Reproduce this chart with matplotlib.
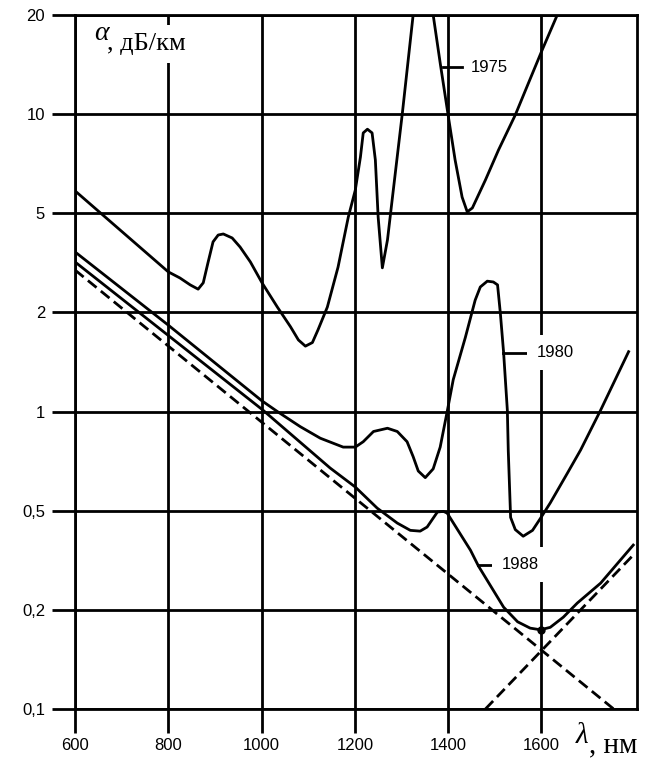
import numpy as np
import matplotlib
matplotlib.use("Agg")
import matplotlib.pyplot as plt
from matplotlib.ticker import NullLocator

# y axis of the original: 0.1, 0.2, 0.5, 1, 2, 5, 10, 20 equally spaced
y_ticks = [0.1, 0.2, 0.5, 1, 2, 5, 10, 20]
y_tick_labels = ["0,1", "0,2", "0,5", "1", "2", "5", "10", "20"]
x_ticks = [600, 800, 1000, 1200, 1400, 1600]

# 1975 fibre
wl_1975 = [600, 800, 825, 847, 864, 875, 885, 896, 907, 918, 937, 954, 976, 1001, 1034, 1062,
           1079, 1094, 1109, 1121, 1141, 1164, 1186, 1201, 1212, 1218, 1227, 1237, 1244, 1250,
           1259, 1270, 1280, 1302, 1325, 1347, 1368, 1383, 1400, 1415, 1430, 1441, 1452, 1480,
           1508, 1544, 1572, 1602, 1634, 1650]
a_1975 = [5.85, 2.91, 2.75, 2.58, 2.48, 2.63, 3.16, 3.84, 4.09, 4.13, 3.98, 3.66, 3.19, 2.63,
          2.10, 1.81, 1.65, 1.58, 1.62, 1.77, 2.10, 3.04, 4.83, 5.88, 7.41, 8.77, 9.0, 8.77,
          7.26, 4.83, 3.02, 3.91, 5.49, 10.1, 20, 40, 20, 14.3, 9.94, 7.26, 5.60, 5.05, 5.19,
          6.31, 7.78, 9.94, 12.4, 15.7, 20, 24]

# 1980 fibre
wl_1980 = [600, 800, 1000, 1034, 1083, 1126, 1175, 1201, 1218, 1240, 1270, 1291, 1312, 1325,
           1336, 1351, 1368, 1383, 1398, 1411, 1437, 1458, 1469, 1484, 1497, 1506, 1512, 1519,
           1527, 1529, 1534, 1544, 1561, 1581, 1598, 1619, 1656, 1684, 1727, 1787]
a_1980 = [3.50, 1.83, 1.08, 1.00, 0.90, 0.83, 0.78, 0.78, 0.81, 0.87, 0.89, 0.87, 0.81, 0.73,
          0.66, 0.63, 0.67, 0.78, 1.0, 1.25, 1.68, 2.24, 2.53, 2.67, 2.65, 2.58, 1.99, 1.51,
          1.01, 0.76, 0.47, 0.42, 0.395, 0.417, 0.466, 0.528, 0.651, 0.764, 1.01, 1.52]

# 1988 fibre
wl_1988 = [600, 1003, 1147, 1201, 1248, 1291, 1319, 1340, 1355, 1377, 1390, 1398, 1448, 1465,
           1519, 1549, 1576, 1598, 1619, 1647, 1677, 1727, 1797]
a_1988 = [3.19, 1.01, 0.674, 0.59, 0.509, 0.446, 0.417, 0.414, 0.43, 0.494, 0.497, 0.489,
          0.347, 0.30, 0.205, 0.184, 0.176, 0.174, 0.177, 0.19, 0.213, 0.256, 0.364]

# limits: Rayleigh scattering and infrared absorption
wl_rayleigh = [600, 1755]
a_rayleigh = [2.96, 0.1]
wl_ir = [1480, 1797]
a_ir = [0.1, 0.332]

min_wl, min_a = 1600, 0.174

LT = np.log10(y_ticks)
IDX = np.arange(len(y_ticks), dtype=float)
L2 = np.log10(2)


def fwd(y):
    ly = np.log10(np.clip(np.asarray(y, float), 1e-9, None))
    p = np.interp(ly, LT, IDX)
    p = np.where(ly > LT[-1], IDX[-1] + (ly - LT[-1]) / L2, p)
    p = np.where(ly < LT[0], (ly - LT[0]) / L2, p)
    return p


def inv(p):
    p = np.asarray(p, float)
    ly = np.interp(p, IDX, LT)
    ly = np.where(p > IDX[-1], LT[-1] + (p - IDX[-1]) * L2, ly)
    ly = np.where(p < 0, LT[0] + p * L2, ly)
    return 10 ** ly


plt.rcParams['font.family'] = ['Liberation Sans', 'DejaVu Sans']
LW = 2.0
W, H = 650, 769

fig = plt.figure(figsize=(W / 100, H / 100), dpi=100)
ax = fig.add_axes([75 / W, 60 / H, 562 / W, 694 / H])
ax.set_yscale('function', functions=(fwd, inv))
ax.set_xlim(600, 1805)
ax.set_ylim(0.1, 20)
ax.set_yticks(y_ticks, labels=y_tick_labels)
ax.set_xticks(x_ticks)
ax.yaxis.set_minor_locator(NullLocator())
ax.xaxis.set_minor_locator(NullLocator())
ax.tick_params(axis='y', length=16.5, width=LW, pad=5, labelsize=12)
ax.tick_params(axis='x', length=17, width=LW, pad=4, labelsize=12)
ax.grid(True, color='black', lw=LW)
ax.set_axisbelow(True)
for s in ax.spines.values():
    s.set_linewidth(LW)

ax.plot(wl_1975, a_1975, color='black', lw=LW)
ax.plot(wl_1980, a_1980, color='black', lw=LW)
ax.plot(wl_1988, a_1988, color='black', lw=LW)
ax.plot(wl_rayleigh, a_rayleigh, color='black', lw=LW, ls=(0, (4, 2)))
ax.plot(wl_ir, a_ir, color='black', lw=LW, ls=(0, (4, 2)))
ax.plot([min_wl], [min_a], 'o', color='black', ms=5)

# curve labels with leader lines
ax.plot([1388, 1430], [13.9, 13.9], color='black', lw=LW)
ax.text(1448, 13.9, "1975", va='center', ha='left', fontsize=12)
ax.plot([1518, 1570], [1.51, 1.51], color='black', lw=LW)
ax.text(1591, 1.51, "1980", va='center', ha='left', fontsize=12,
        bbox=dict(boxstyle='square,pad=0.6', fc='white', ec='none'))
ax.plot([1465, 1506], [0.303, 0.303], color='black', lw=LW)
ax.text(1516, 0.303, "1988", va='center', ha='left', fontsize=12,
        bbox=dict(boxstyle='square,pad=0.6', fc='white', ec='none'))

# axis titles
serif = ['Liberation Serif', 'DejaVu Serif']
fig.text(107 / W, 1 - 50 / H, ", дБ/км", family=serif, fontsize=19,
         va='baseline', ha='left', zorder=3,
         bbox=dict(boxstyle='square,pad=0.3', fc='white', ec='none'))
fig.text(94 / W, 1 - 40 / H, "α", family=serif, style='italic', fontsize=20,
         va='baseline', ha='left', zorder=4)
fig.text(576 / W, 1 - 743 / H, "λ", family=serif, style='italic', fontsize=21,
         va='baseline', ha='left')
fig.text(589 / W, 1 - 752 / H, ", нм", family=serif, fontsize=21,
         va='baseline', ha='left')

fig.savefig("out.png", dpi=100)
